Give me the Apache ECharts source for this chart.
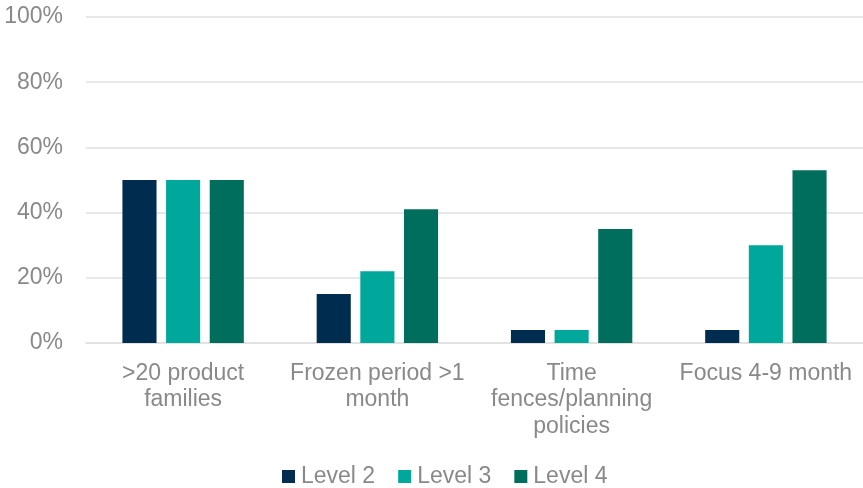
<!DOCTYPE html>
<html>
<head>
<meta charset="utf-8">
<script src="https://cdn.jsdelivr.net/npm/echarts@6/dist/echarts.min.js"></script>
<style>
  html, body { margin: 0; padding: 0; background: #ffffff; }
  #chart { width: 863px; height: 488px; }
</style>
</head>
<body>
<div id="chart"></div>
<script>
// Planning practices by maturity level (share of respondents)
const categories = [
  '>20 product\nfamilies',
  'Frozen period >1\nmonth',
  'Time\nfences/planning\npolicies',
  'Focus 4-9 month'
];
const seriesNames = ['Level 2', 'Level 3', 'Level 4'];
const level2 = [50, 15, 4, 4];
const level3 = [50, 22, 4, 30];
const level4 = [50, 41, 35, 53];
const colors = ['#002D4F', '#00A89C', '#006E5C'];

const textColor = '#898989';
const fontFamily = '"Liberation Sans", Arial, sans-serif';

const chart = echarts.init(document.getElementById('chart'), null, { renderer: 'canvas' });

const values = [level2, level3, level4];
chart.setOption({
  animation: false,
  color: colors,
  grid: { left: 86, right: 0, top: 17, bottom: 145, containLabel: false },
  legend: {
    data: seriesNames,
    top: 465,
    left: 282,
    padding: 0,
    icon: 'rect',
    itemWidth: 13,
    itemHeight: 13,
    itemGap: 23,
    textStyle: { color: textColor, fontSize: 23, fontFamily: fontFamily, padding: [0, 0, 0, 1] }
  },
  xAxis: {
    type: 'category',
    data: categories,
    axisTick: { show: false },
    axisLine: { show: true, lineStyle: { color: '#e0e0e0', width: 1.5 } },
    axisLabel: {
      color: textColor,
      fontSize: 23,
      fontFamily: fontFamily,
      lineHeight: 26.5,
      margin: 17,
      interval: 0
    }
  },
  yAxis: {
    type: 'value',
    min: 0,
    max: 100,
    interval: 20,
    axisLine: { show: false },
    axisTick: { show: false },
    splitLine: { lineStyle: { color: '#e0e0e0', width: 1.5 } },
    axisLabel: {
      color: textColor,
      fontSize: 23,
      fontFamily: fontFamily,
      margin: 23,
      formatter: '{value}%'
    }
  },
  series: seriesNames.map((name, i) => ({
    name: name,
    type: 'bar',
    data: values[i],
    barGap: '28%',
    barCategoryGap: '37.5%',
    itemStyle: { color: colors[i] }
  }))
});
</script>
</body>
</html>
